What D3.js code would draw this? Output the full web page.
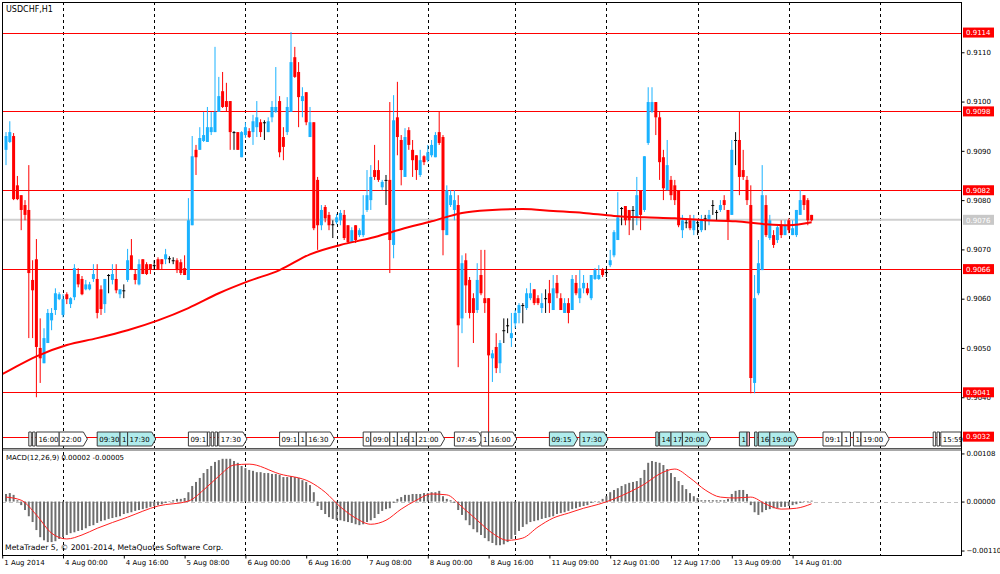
<!DOCTYPE html>
<html>
<head>
<meta charset="utf-8">
<script src="https://cdn.jsdelivr.net/npm/d3@7"></script>
<style>
  body { margin: 0; background: #fff; }
  svg { display: block; font-family: "DejaVu Sans", sans-serif; }
</style>
</head>
<body>
<div id="container"></div>
<script>
// USDCHF H1, bar 0 = 1 Aug 2014 08:00
const opens = [
  0.90902,0.90918,0.90930,0.90830,0.90810,0.90790,0.90780,0.90638,0.90680,0.90500,
  0.90469,0.90510,0.90556,0.90577,0.90599,0.90567,0.90609,0.90589,0.90603,0.90650,
  0.90640,0.90619,0.90619,0.90640,0.90640,0.90619,0.90589,0.90648,0.90638,0.90640,
  0.90609,0.90617,0.90638,0.90688,0.90650,0.90629,0.90680,0.90670,0.90670,0.90668,
  0.90680,0.90680,0.90680,0.90682,0.90678,0.90678,0.90674,0.90662,0.90638,0.90749,
  0.90902,0.90902,0.90920,0.90918,0.90938,0.90938,0.90979,0.91021,0.91001,0.91001,
  0.90938,0.90938,0.90887,0.90932,0.90940,0.90938,0.90948,0.90958,0.90958,0.90938,
  0.90968,0.90979,0.91001,0.90928,0.90938,0.90979,0.91090,0.91060,0.91001,0.91019,
  0.90928,0.90958,0.90841,0.90749,0.90786,0.90770,0.90751,0.90755,0.90759,0.90770,
  0.90749,0.90715,0.90749,0.90729,0.90729,0.90780,0.90800,0.90861,0.90861,0.90826,
  0.90841,0.90841,0.90709,0.90968,0.90922,0.90847,0.90942,0.90902,0.90891,0.90851,
  0.90889,0.90881,0.90891,0.90887,0.90938,0.90928,0.90729,0.90790,0.90780,0.90790,
  0.90560,0.90678,0.90638,0.90601,0.90577,0.90648,0.90601,0.90601,0.90479,0.90502,
  0.90469,0.90536,0.90546,0.90520,0.90550,0.90571,0.90587,0.90581,0.90601,0.90619,
  0.90601,0.90581,0.90601,0.90611,0.90577,0.90632,0.90601,0.90571,0.90591,0.90577,
  0.90632,0.90601,0.90621,0.90621,0.90601,0.90640,0.90640,0.90660,0.90654,0.90668,
  0.90688,0.90719,0.90784,0.90788,0.90780,0.90780,0.90765,0.90820,0.90780,0.90916,
  0.90979,0.90999,0.90968,0.90887,0.90820,0.90841,0.90830,0.90820,0.90739,0.90755,
  0.90759,0.90739,0.90755,0.90739,0.90763,0.90759,0.90790,0.90776,0.90780,0.90800,
  0.90780,0.90770,0.90922,0.90922,0.90861,0.90841,0.90790,0.90429,0.90611,0.90658,
  0.90790,0.90723,0.90729,0.90719,0.90749,0.90729,0.90759,0.90729,0.90729,0.90770,
  0.90810,0.90800,0.90770
];
const highs = [
  0.90938,0.90960,0.90936,0.90849,0.90810,0.90800,0.90871,0.90678,0.90721,0.90560,
  0.90540,0.90579,0.90581,0.90621,0.90613,0.90609,0.90613,0.90603,0.90670,0.90662,
  0.90646,0.90638,0.90634,0.90670,0.90670,0.90627,0.90640,0.90650,0.90670,0.90670,
  0.90619,0.90629,0.90701,0.90721,0.90660,0.90680,0.90680,0.90674,0.90670,0.90678,
  0.90684,0.90680,0.90701,0.90686,0.90684,0.90682,0.90680,0.90688,0.90804,0.90930,
  0.90912,0.90948,0.90979,0.90989,0.90979,0.91111,0.91050,0.91060,0.91038,0.91001,
  0.90940,0.90938,0.90940,0.90958,0.90946,0.90973,0.91001,0.90964,0.90962,0.90968,
  0.91001,0.91070,0.91011,0.90948,0.91009,0.91141,0.91111,0.91080,0.91029,0.91019,
  0.90989,0.90958,0.90847,0.90790,0.90790,0.90776,0.90759,0.90772,0.90780,0.90780,
  0.90749,0.90745,0.90749,0.90743,0.90810,0.90861,0.90871,0.90912,0.90881,0.90841,
  0.90851,0.90999,0.91013,0.91040,0.90932,0.90946,0.90948,0.90922,0.90891,0.90902,
  0.90891,0.90912,0.90922,0.90938,0.90979,0.90932,0.90830,0.90820,0.90820,0.90810,
  0.90688,0.90692,0.90644,0.90611,0.90672,0.90699,0.90699,0.90601,0.90496,0.90530,
  0.90516,0.90560,0.90560,0.90571,0.90577,0.90591,0.90591,0.90621,0.90632,0.90619,
  0.90607,0.90611,0.90619,0.90638,0.90648,0.90648,0.90611,0.90601,0.90601,0.90648,
  0.90648,0.90658,0.90648,0.90632,0.90648,0.90662,0.90668,0.90662,0.90662,0.90699,
  0.90739,0.90816,0.90786,0.90788,0.90780,0.90788,0.90847,0.90820,0.90889,0.91029,
  0.91029,0.90999,0.90979,0.90902,0.90922,0.90849,0.90841,0.90820,0.90770,0.90763,
  0.90770,0.90770,0.90759,0.90770,0.90770,0.90780,0.90800,0.90780,0.90800,0.90810,
  0.90780,0.90922,0.90938,0.90979,0.90902,0.90849,0.90830,0.90648,0.90719,0.90871,
  0.90810,0.90770,0.90739,0.90749,0.90759,0.90759,0.90763,0.90759,0.90780,0.90820,
  0.90810,0.90804,0.90770
];
const lows = [
  0.90871,0.90916,0.90800,0.90800,0.90739,0.90759,0.90520,0.90520,0.90400,0.90429,
  0.90469,0.90510,0.90536,0.90567,0.90597,0.90562,0.90589,0.90581,0.90597,0.90623,
  0.90607,0.90617,0.90617,0.90634,0.90560,0.90567,0.90571,0.90611,0.90629,0.90611,
  0.90601,0.90601,0.90634,0.90658,0.90629,0.90627,0.90650,0.90648,0.90650,0.90658,
  0.90658,0.90660,0.90670,0.90672,0.90670,0.90652,0.90648,0.90648,0.90638,0.90749,
  0.90851,0.90902,0.90918,0.90918,0.90932,0.90938,0.90979,0.90987,0.90979,0.90902,
  0.90902,0.90902,0.90887,0.90926,0.90926,0.90912,0.90928,0.90928,0.90922,0.90938,
  0.90958,0.90977,0.90887,0.90881,0.90932,0.90979,0.91048,0.90948,0.90968,0.90952,
  0.90928,0.90739,0.90699,0.90739,0.90755,0.90739,0.90723,0.90751,0.90749,0.90719,
  0.90713,0.90713,0.90713,0.90725,0.90725,0.90776,0.90780,0.90841,0.90837,0.90820,
  0.90790,0.90652,0.90682,0.90891,0.90830,0.90847,0.90902,0.90847,0.90841,0.90847,
  0.90871,0.90877,0.90887,0.90887,0.90912,0.90688,0.90729,0.90786,0.90759,0.90461,
  0.90530,0.90571,0.90560,0.90510,0.90571,0.90607,0.90571,0.90321,0.90431,0.90449,
  0.90449,0.90510,0.90530,0.90502,0.90540,0.90550,0.90550,0.90577,0.90597,0.90587,
  0.90587,0.90571,0.90571,0.90571,0.90577,0.90601,0.90577,0.90571,0.90550,0.90577,
  0.90607,0.90591,0.90611,0.90607,0.90597,0.90638,0.90638,0.90644,0.90644,0.90664,
  0.90684,0.90719,0.90749,0.90749,0.90729,0.90739,0.90749,0.90739,0.90776,0.90912,
  0.90977,0.90932,0.90841,0.90800,0.90820,0.90800,0.90790,0.90745,0.90723,0.90743,
  0.90739,0.90729,0.90729,0.90735,0.90739,0.90749,0.90770,0.90759,0.90776,0.90780,
  0.90719,0.90770,0.90871,0.90810,0.90841,0.90790,0.90408,0.90408,0.90607,0.90658,
  0.90725,0.90719,0.90703,0.90713,0.90723,0.90729,0.90733,0.90729,0.90725,0.90770,
  0.90780,0.90749,0.90757
];
const closes = [
  0.90930,0.90938,0.90802,0.90802,0.90780,0.90770,0.90652,0.90617,0.90502,0.90479,
  0.90520,0.90571,0.90571,0.90611,0.90609,0.90599,0.90599,0.90601,0.90662,0.90629,
  0.90609,0.90629,0.90629,0.90650,0.90571,0.90579,0.90640,0.90648,0.90650,0.90617,
  0.90619,0.90617,0.90678,0.90660,0.90638,0.90670,0.90650,0.90650,0.90660,0.90668,
  0.90660,0.90670,0.90690,0.90682,0.90678,0.90658,0.90652,0.90648,0.90759,0.90889,
  0.90887,0.90926,0.90932,0.90948,0.90948,0.90979,0.91011,0.90989,0.90989,0.90938,
  0.90938,0.90902,0.90938,0.90948,0.90928,0.90960,0.90968,0.90938,0.90958,0.90960,
  0.90989,0.90989,0.90897,0.90908,0.90989,0.91080,0.91050,0.91009,0.91011,0.90958,
  0.90958,0.90743,0.90749,0.90780,0.90763,0.90749,0.90751,0.90765,0.90774,0.90723,
  0.90715,0.90739,0.90719,0.90739,0.90770,0.90810,0.90847,0.90847,0.90841,0.90837,
  0.90841,0.90719,0.90962,0.90928,0.90861,0.90928,0.90912,0.90881,0.90861,0.90881,
  0.90877,0.90897,0.90912,0.90932,0.90916,0.90739,0.90820,0.90810,0.90800,0.90546,
  0.90672,0.90627,0.90571,0.90571,0.90638,0.90611,0.90591,0.90485,0.90489,0.90459,
  0.90510,0.90536,0.90546,0.90530,0.90571,0.90587,0.90587,0.90611,0.90611,0.90591,
  0.90591,0.90591,0.90601,0.90591,0.90621,0.90611,0.90577,0.90591,0.90571,0.90640,
  0.90611,0.90621,0.90632,0.90611,0.90648,0.90658,0.90648,0.90648,0.90654,0.90678,
  0.90735,0.90765,0.90784,0.90759,0.90759,0.90780,0.90810,0.90770,0.90889,0.90999,
  0.90999,0.90968,0.90877,0.90824,0.90871,0.90810,0.90800,0.90749,0.90759,0.90755,
  0.90743,0.90759,0.90755,0.90759,0.90763,0.90770,0.90790,0.90776,0.90790,0.90790,
  0.90759,0.90902,0.90922,0.90847,0.90847,0.90800,0.90439,0.90601,0.90672,0.90810,
  0.90729,0.90759,0.90709,0.90745,0.90729,0.90749,0.90739,0.90743,0.90780,0.90800,
  0.90790,0.90759,0.90759
];

// moving average (bar index, value)
const maIdx = [-1,0,8,16,24,32,40,48,56,64,72,80,88,96,104,112,120,128,136,144,152,160,168,176,184,192,200,206,212];
const maVals = [0.90447,0.90451,0.90483,0.90506,0.90520,0.90536,0.90556,0.90581,0.90611,0.90636,0.90658,0.90690,0.90709,0.90723,0.90741,0.90757,0.90774,0.90780,0.90782,0.90778,0.90774,0.90768,0.90765,0.90763,0.90759,0.90757,0.90751,0.90749,0.90755];

// MACD(12,26,9) main histogram, one per bar
const macdHist = [
  0.00017,0.00019,0.00015,0.00003,-0.00008,-0.00019,-0.00033,-0.00046,-0.00064,-0.00080,
  -0.00087,-0.00091,-0.00091,-0.00089,-0.00084,-0.00080,-0.00075,-0.00071,-0.00069,-0.00066,
  -0.00064,-0.00060,-0.00055,-0.00053,-0.00048,-0.00044,-0.00042,-0.00039,-0.00037,-0.00035,
  -0.00033,-0.00028,-0.00026,-0.00024,-0.00021,-0.00019,-0.00017,-0.00015,-0.00012,-0.00010,
  -0.00008,-0.00006,-0.00003,-0.00001,0.00003,0.00006,0.00006,0.00008,0.00021,0.00035,
  0.00044,0.00053,0.00064,0.00073,0.00080,0.00089,0.00093,0.00096,0.00096,0.00096,
  0.00091,0.00087,0.00080,0.00075,0.00071,0.00069,0.00066,0.00066,0.00064,0.00064,
  0.00062,0.00062,0.00060,0.00055,0.00055,0.00057,0.00055,0.00053,0.00048,0.00044,
  0.00037,0.00021,-0.00010,-0.00019,-0.00028,-0.00035,-0.00039,-0.00042,-0.00042,-0.00044,
  -0.00046,-0.00048,-0.00051,-0.00053,-0.00051,-0.00046,-0.00042,-0.00037,-0.00028,-0.00021,
  -0.00017,-0.00015,-0.00003,0.00006,0.00010,0.00015,0.00015,0.00017,0.00017,0.00017,
  0.00019,0.00019,0.00021,0.00021,0.00024,0.00012,0.00006,0.00003,-0.00003,-0.00019,
  -0.00030,-0.00042,-0.00053,-0.00062,-0.00069,-0.00075,-0.00082,-0.00089,-0.00093,-0.00098,
  -0.00098,-0.00096,-0.00091,-0.00084,-0.00075,-0.00066,-0.00057,-0.00051,-0.00046,-0.00044,
  -0.00042,-0.00039,-0.00037,-0.00035,-0.00033,-0.00028,-0.00026,-0.00024,-0.00021,-0.00017,
  -0.00015,-0.00012,-0.00010,-0.00008,-0.00003,-0.00001,0.00001,0.00006,0.00012,0.00021,
  0.00026,0.00030,0.00035,0.00039,0.00042,0.00044,0.00046,0.00053,0.00071,0.00087,
  0.00091,0.00089,0.00087,0.00082,0.00073,0.00064,0.00055,0.00046,0.00037,0.00028,
  0.00019,0.00012,0.00008,0.00003,0.00003,0.00003,0.00003,0.00003,0.00003,0.00003,
  0.00006,0.00017,0.00024,0.00026,0.00026,0.00017,-0.00008,-0.00024,-0.00030,-0.00024,
  -0.00019,-0.00017,-0.00015,-0.00015,-0.00012,-0.00012,-0.00010,-0.00008,-0.00006,-0.00003,
  -0.00001,0.00001,0.00002
];
// signal line
const sigIdx = [0,4,8,12,16,20,24,32,40,48,52,56,60,64,72,80,84,88,92,96,100,104,108,112,116,120,124,128,132,136,140,144,148,152,156,160,164,168,172,176,180,184,188,192,196,200,204,208,212];
const sigVals = [0.00010,0.00003,-0.00030,-0.00071,-0.00084,-0.00075,-0.00060,-0.00035,-0.00010,0.00001,0.00026,0.00057,0.00082,0.00084,0.00062,0.00044,0.00021,-0.00012,-0.00037,-0.00051,-0.00042,-0.00017,0.00003,0.00017,0.00015,-0.00012,-0.00042,-0.00071,-0.00087,-0.00082,-0.00057,-0.00037,-0.00026,-0.00015,-0.00006,0.00006,0.00021,0.00039,0.00062,0.00073,0.00053,0.00026,0.00010,0.00008,0.00010,-0.00006,-0.00017,-0.00015,-0.00005];

// time axis
const xTickIdx = [-1,15,31,47,63,79,95,111,127,143,159,175,191,207];
const xTickLabels = ["1 Aug 2014","4 Aug 00:00","4 Aug 16:00","5 Aug 08:00","6 Aug 00:00","6 Aug 16:00","7 Aug 08:00","8 Aug 00:00","8 Aug 16:00","11 Aug 09:00","12 Aug 01:00","12 Aug 17:00","13 Aug 09:00","14 Aug 01:00"];
const daySeparators = [15,39,63,87,111,134,158,182,206,230];

const priceTicks = [0.9040,0.9050,0.9060,0.9070,0.9080,0.9090,0.9100,0.9110];
const macdTicks = [0.00108,0,-0.00110];
const redLevels = [0.9114,0.9098,0.9082,0.9066,0.9041,0.9032];
const lastPrice = 0.9076;

// calendar events: [bar, text, style (0 white, 1 cyan, 2 pink), arrow]
const events = [
  [6,"",0,0],[7,"",0,0],[8,"16:00",0,0],[14,"22:00",0,1],
  [24,"09:30",1,0],[30,"1",1,0],[32,"17:30",1,1],
  [48,"09:1",0,0],[53,"",0,0],[54,"",0,0],[55,"",0,0],[56,"17:30",0,1],
  [72,"09:1",0,0],[77,"1",0,0],[79,"16:30",0,1],
  [94,"0",0,0],[96,"09:00",0,0],[101,"1",0,0],[103,"16",0,0],[106,"1",0,0],[108,"21:00",0,1],
  [118,"07:45",0,1],[125,"1",0,0],[127,"16:00",0,1],
  [143,"09:15",1,1],[151,"17:30",1,1],
  [171,"",1,0],[172,"14",1,0],[175,"17",1,0],[178,"20:00",1,1],
  [193,"1",1,0],[195,"",2,0],[197,"",1,0],[198,"16",1,0],[201,"19:00",1,1],
  [215,"09:1",0,0],[220,"1",0,0],[223,"16",0,0],[225,"19:00",0,1],
  [244,"",0,0],[245,"",0,0],[246,"15:59",0,0]
];

const w = 1000, h = 574;
const padL = 2, padR = 961, padT = 2, mainBottom = 448, macdTop = 451, macdBottom = 555;
const upColor = "#1ab2ff", downColor = "#ff0000";

const svg = d3.select("#container").append("svg")
  .attr("width", w).attr("height", h);

const xScale = d3.scaleLinear().domain([0, 212]).range([6, 6 + 212 * 3.8]);
const yScale = d3.scaleLinear().domain([0.90297, 0.91202]).range([mainBottom, padT]);
const mScale = d3.scaleLinear().domain([-0.00120, 0.001135]).range([macdBottom, macdTop]);

const defs = svg.append("defs");
defs.append("clipPath").attr("id", "mainClip").append("rect")
  .attr("x", padL).attr("y", padT).attr("width", padR - padL).attr("height", mainBottom - padT);
defs.append("clipPath").attr("id", "macdClip").append("rect")
  .attr("x", padL).attr("y", macdTop).attr("width", padR - padL).attr("height", macdBottom - macdTop);

// day separators across both panels
svg.append("g").selectAll("line").data(daySeparators).enter().append("line")
  .attr("x1", d => Math.round(xScale(d)) + 0.5).attr("x2", d => Math.round(xScale(d)) + 0.5)
  .attr("y1", padT).attr("y2", macdBottom)
  .attr("stroke", "#000").attr("stroke-dasharray", "3,3");

const main = svg.append("g").attr("clip-path", "url(#mainClip)");

// horizontal levels
main.selectAll("line.level").data(redLevels).enter().append("line")
  .attr("class", "level")
  .attr("x1", padL).attr("x2", padR)
  .attr("y1", d => Math.round(yScale(d)) + 0.5).attr("y2", d => Math.round(yScale(d)) + 0.5)
  .attr("stroke", "#ff0000").attr("stroke-width", 1);
main.append("line")
  .attr("x1", padL).attr("x2", padR)
  .attr("y1", yScale(lastPrice)).attr("y2", yScale(lastPrice))
  .attr("stroke", "#cfcfcf").attr("stroke-width", 2);

// candles
const idx = d3.range(closes.length);
const candleColor = i => closes[i] > opens[i] ? upColor : (closes[i] < opens[i] ? downColor : "#000");
main.selectAll("line.wick").data(idx).enter().append("line")
  .attr("class", "wick")
  .attr("x1", i => xScale(i)).attr("x2", i => xScale(i))
  .attr("y1", i => yScale(highs[i])).attr("y2", i => yScale(lows[i]))
  .attr("stroke", candleColor).attr("stroke-width", 1);
main.selectAll("rect.body").data(idx).enter().append("rect")
  .attr("class", "body")
  .attr("x", i => xScale(i) - 1.5)
  .attr("width", 3)
  .attr("y", i => yScale(Math.max(opens[i], closes[i])))
  .attr("height", i => Math.max(1, Math.abs(yScale(opens[i]) - yScale(closes[i]))))
  .attr("fill", candleColor);

// moving average
const maLine = d3.line().x(d => xScale(d[0])).y(d => yScale(d[1])).curve(d3.curveMonotoneX);
main.append("path")
  .datum(maIdx.map((d, i) => [d, maVals[i]]))
  .attr("d", maLine)
  .attr("fill", "none").attr("stroke", "#ff0000").attr("stroke-width", 2);

// event markers
const evG = svg.append("g").attr("font-size", "7px");
const evTop = 432, evH = 14;
const evX = events.map(e => xScale(e[0]));
events.forEach((e, k) => {
  const x0 = evX[k];
  const g = evG.append("g");
  const t = g.append("text").attr("x", x0 + 2).attr("y", evTop + 10).text(e[1]).attr("fill", "#000");
  let bw = e[1] ? t.node().getComputedTextLength() + 4 : 2.5;
  if (k + 1 < events.length && evX[k + 1] - x0 < bw && evX[k + 1] > x0) bw = evX[k + 1] - x0;
  if (x0 + bw > padR) bw = padR - x0;
  const fill = e[2] === 1 ? "#b0ecec" : (e[2] === 2 ? "#ffb4c4" : "#ffffff");
  const y0 = evTop, y1 = evTop + evH, ym = evTop + evH / 2;
  const pts = e[3]
    ? [[x0, y0], [x0 + bw, y0], [x0 + bw + 4, ym], [x0 + bw, y1], [x0, y1]]
    : [[x0, y0], [x0 + bw, y0], [x0 + bw, y1], [x0, y1]];
  g.insert("polygon", "text")
    .attr("points", pts.map(p => p.join(",")).join(" "))
    .attr("fill", fill).attr("stroke", "#3c3c3c").attr("stroke-width", 1);
});

// panel separator band
svg.append("rect").attr("x", padL).attr("y", mainBottom).attr("width", padR - padL).attr("height", 3).attr("fill", "#a8a8a8");
svg.append("line").attr("x1", padL).attr("x2", padR).attr("y1", mainBottom + 0.5).attr("y2", mainBottom + 0.5).attr("stroke", "#555");

// MACD panel
const macd = svg.append("g").attr("clip-path", "url(#macdClip)");
macd.append("line")
  .attr("x1", padL).attr("x2", padR)
  .attr("y1", Math.round(mScale(0)) + 0.5).attr("y2", Math.round(mScale(0)) + 0.5)
  .attr("stroke", "#c0c0c0").attr("stroke-dasharray", "4,3");
macd.selectAll("rect.hist").data(idx).enter().append("rect")
  .attr("class", "hist")
  .attr("x", i => xScale(i) - 1)
  .attr("width", 2)
  .attr("y", i => Math.min(mScale(0), mScale(macdHist[i])))
  .attr("height", i => Math.max(0.5, Math.abs(mScale(macdHist[i]) - mScale(0))))
  .attr("fill", "#6e6e6e");
const sigLine = d3.line().x(d => xScale(d[0])).y(d => mScale(d[1])).curve(d3.curveMonotoneX);
macd.append("path")
  .datum(sigIdx.map((d, i) => [d, sigVals[i]]))
  .attr("d", sigLine)
  .attr("fill", "none").attr("stroke", "#ff2020").attr("stroke-width", 1);

// frame
svg.append("line").attr("x1", padL + 0.5).attr("x2", padL + 0.5).attr("y1", padT).attr("y2", macdBottom).attr("stroke", "#000");
svg.append("line").attr("x1", padL).attr("x2", padR).attr("y1", padT + 0.5).attr("y2", padT + 0.5).attr("stroke", "#000");
svg.append("line").attr("x1", padR + 0.5).attr("x2", padR + 0.5).attr("y1", padT).attr("y2", macdBottom + 1).attr("stroke", "#000");
svg.append("line").attr("x1", padL).attr("x2", padR + 1).attr("y1", macdBottom + 0.5).attr("y2", macdBottom + 0.5).attr("stroke", "#000");

// axes
const yAxis = d3.axisRight(yScale).tickValues(priceTicks).tickFormat(d3.format(".4f")).tickSize(3);
svg.append("g").attr("transform", "translate(" + (padR + 0.5) + ",0)").call(yAxis)
  .call(g => g.select(".domain").remove())
  .call(g => g.selectAll("text").attr("font-size", "7px").attr("font-family", "DejaVu Sans").attr("x", 5));

const mAxis = d3.axisRight(mScale).tickValues(macdTicks).tickFormat(d3.format(".5f")).tickSize(3);
svg.append("g").attr("transform", "translate(" + (padR + 0.5) + ",0)").call(mAxis)
  .call(g => g.select(".domain").remove())
  .call(g => g.selectAll("text").attr("font-size", "7px").attr("font-family", "DejaVu Sans").attr("x", 5));

const xAxis = d3.axisBottom(xScale).tickValues(xTickIdx).tickFormat((d, i) => xTickLabels[i]).tickSize(3);
svg.append("g").attr("transform", "translate(0," + (macdBottom + 0.5) + ")").call(xAxis)
  .call(g => g.select(".domain").remove())
  .call(g => g.selectAll("text").attr("font-size", "7px").attr("font-family", "DejaVu Sans")
    .attr("text-anchor", "start").attr("dx", 1.5).attr("y", 5));

// price level labels
const tags = redLevels.map(v => [v, "#ff0000"]).concat([[lastPrice, "#c8c8c8"]]);
const tagG = svg.append("g").selectAll("g").data(tags).enter().append("g");
tagG.append("rect")
  .attr("x", padR + 2).attr("y", d => yScale(d[0]) - 5)
  .attr("width", 31).attr("height", 10)
  .attr("fill", d => d[1]);
tagG.append("text")
  .attr("x", padR + 5).attr("y", d => yScale(d[0]) + 2.8)
  .attr("font-size", "7px").attr("fill", "#fff")
  .text(d => d3.format(".4f")(d[0]));

// texts
svg.append("text").attr("x", 6).attr("y", 12).attr("font-size", "8px").text("USDCHF,H1");
svg.append("text").attr("x", 6).attr("y", 460).attr("font-size", "7px").text("MACD(12,26,9) 0.00002 -0.00005");
svg.append("text").attr("x", 5).attr("y", 550).attr("font-size", "7.7px").text("MetaTrader 5, \u00a9 2001-2014, MetaQuotes Software Corp.");
</script>
</body>
</html>
